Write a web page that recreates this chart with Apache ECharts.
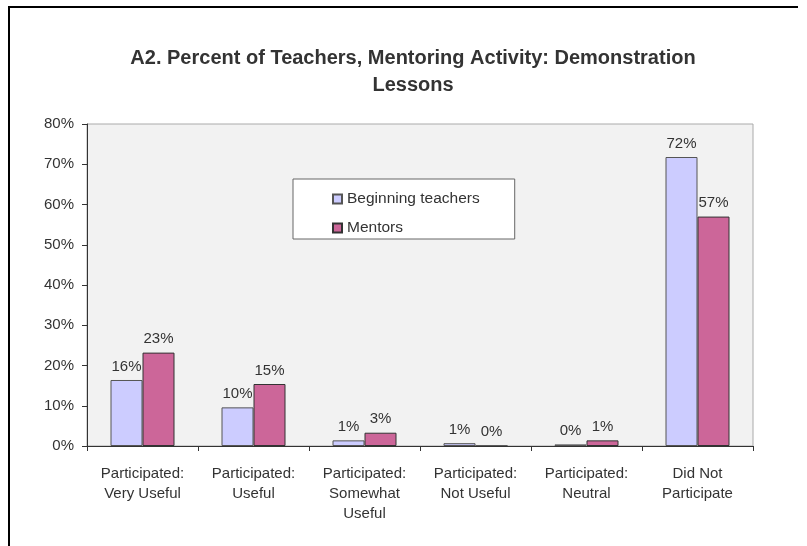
<!DOCTYPE html>
<html>
<head>
<meta charset="utf-8">
<script src="https://cdn.jsdelivr.net/npm/echarts@6/dist/echarts.min.js"></script>
<style>
  html, body { margin: 0; padding: 0; background: #fff; }
  #chart { width: 807px; height: 546px; }
</style>
</head>
<body>
<div id="chart"></div>
<script>
// 数据
const categories = [
  'Participated:\nVery Useful',
  'Participated:\nUseful',
  'Participated:\nSomewhat\nUseful',
  'Participated:\nNot Useful',
  'Participated:\nNeutral',
  'Did Not\nParticipate'
];
const beginningTeachers = [16.4, 9.6, 1.4, 0.7, 0.4, 71.8];
const mentors = [23.2, 15.4, 3.3, 0, 1.4, 57.0];
const yTicks = [0, 10, 20, 30, 40, 50, 60, 70, 80];

const myChart = echarts.init(document.getElementById('chart'));
const font = 'Liberation Sans, Arial, sans-serif';

const labelOpt = {
  show: true,
  position: 'top',
  distance: 6,
  color: '#333',
  fontSize: 15,
  fontFamily: font,
  formatter: p => Math.round(p.value) + '%'
};

const option = {
  backgroundColor: '#fff',
  animation: false,
  title: {
    text: 'A2. Percent of Teachers, Mentoring Activity: Demonstration\nLessons',
    left: 408,
    textAlign: 'center',
    top: 40,
    textStyle: {
      fontFamily: font,
      fontSize: 20,
      fontWeight: 'bold',
      color: '#333',
      lineHeight: 27
    }
  },
  legend: {
    orient: 'vertical',
    left: 293,
    top: 179,
    padding: [11, 35, 2, 39],
    itemGap: 11,
    itemWidth: 9,
    itemHeight: 9,
    backgroundColor: '#fff',
    borderColor: '#666',
    borderWidth: 1,
    borderRadius: 0,
    icon: 'rect',
    textStyle: { fontFamily: font, fontSize: 15.5, color: '#333', lineHeight: 18 },
    data: ['Beginning teachers', 'Mentors']
  },
  grid: {
    left: 87,
    right: 54,
    top: 124,
    bottom: 100,
    show: true,
    backgroundColor: '#f2f2f2',
    borderColor: '#aaa',
    borderWidth: 1
  },
  xAxis: {
    type: 'category',
    data: categories,
    axisLine: { lineStyle: { color: '#333', width: 1 } },
    axisTick: { show: true, length: 5, lineStyle: { color: '#333' } },
    axisLabel: {
      fontFamily: font,
      fontSize: 15,
      color: '#333',
      lineHeight: 20,
      margin: 18,
      interval: 0
    }
  },
  yAxis: {
    type: 'value',
    min: yTicks[0],
    max: yTicks[yTicks.length - 1],
    interval: 10,
    splitLine: { show: false },
    axisLine: { show: true, lineStyle: { color: '#333', width: 1 } },
    axisTick: { show: true, length: 5, lineStyle: { color: '#333' } },
    axisLabel: {
      fontFamily: font,
      fontSize: 15,
      color: '#333',
      margin: 13,
      formatter: '{value}%'
    }
  },
  series: [
    {
      name: 'Beginning teachers',
      type: 'bar',
      data: beginningTeachers,
      barWidth: 32,
      barGap: '0%',
      itemStyle: { color: '#ccccff', borderColor: '#555', borderWidth: 1 },
      label: labelOpt
    },
    {
      name: 'Mentors',
      type: 'bar',
      data: mentors,
      barWidth: 32,
      barGap: '0%',
      itemStyle: { color: '#cc6699', borderColor: '#333', borderWidth: 1 },
      label: labelOpt
    }
  ],
  graphic: [
    { type: 'line', shape: { x1: 8, y1: 7, x2: 798, y2: 7 }, style: { stroke: '#000', lineWidth: 2 } },
    { type: 'line', shape: { x1: 9, y1: 6, x2: 9, y2: 546 }, style: { stroke: '#000', lineWidth: 2 } }
  ]
};

myChart.setOption(option);
window.addEventListener('resize', () => myChart.resize());
</script>
</body>
</html>
